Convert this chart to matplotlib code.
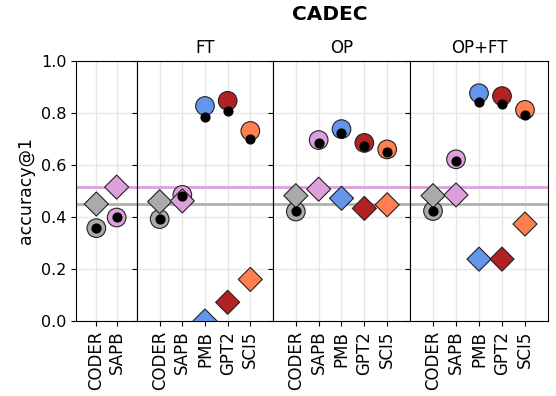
import matplotlib
matplotlib.use("Agg")
import matplotlib.pyplot as plt
import numpy as np

panels = ["", "FT", "OP", "OP+FT"]
cats_base = ["CODER", "SAPB"]
cats = ["CODER", "SAPB", "PMB", "GPT2", "SCI5"]
colors = {"CODER": "#aaaaaa", "SAPB": "#dda0dd", "PMB": "#6495ed",
          "GPT2": "#b22222", "SCI5": "#ff7f50"}

# circles (big), black dots, diamonds per panel
base_circle = [0.357, 0.398]
base_dot = [0.357, 0.400]
base_diamond = [0.450, 0.515]

ft_circle = [0.392, 0.485, 0.827, 0.847, 0.731]
ft_dot = [0.392, 0.481, 0.786, 0.809, 0.701]
ft_diamond = [0.459, 0.462, 0.000, 0.072, 0.160]

op_circle = [0.421, 0.696, 0.738, 0.685, 0.660]
op_dot = [0.423, 0.686, 0.724, 0.673, 0.649]
op_diamond = [0.482, 0.507, 0.472, 0.433, 0.447]

opft_circle = [0.423, 0.622, 0.876, 0.865, 0.812]
opft_dot = [0.423, 0.615, 0.844, 0.833, 0.791]
opft_diamond = [0.482, 0.485, 0.238, 0.238, 0.373]

ref_lines = {"SAPB": 0.514, "CODER": 0.449}

data = [
    (cats_base, base_circle, base_dot, base_diamond),
    (cats, ft_circle, ft_dot, ft_diamond),
    (cats, op_circle, op_dot, op_diamond),
    (cats, opft_circle, opft_dot, opft_diamond),
]

fig = plt.figure(figsize=(5.56, 3.96), dpi=100)
gs = fig.add_gridspec(1, 4, width_ratios=[61, 136, 137, 138], wspace=0,
                      left=76/556, right=548/556, bottom=1-321/396, top=1-61/396)
axes = []
for i in range(4):
    ax = fig.add_subplot(gs[0, i], sharey=axes[0] if axes else None)
    axes.append(ax)
    cl, circ, dot, dia = data[i]
    x = np.arange(len(cl))
    ax.set_axisbelow(True)
    ax.grid(True, color="#e6e6e6", linewidth=1.0)
    ax.axhline(ref_lines["SAPB"], color="#dda0dd", linewidth=2, zorder=1)
    ax.axhline(ref_lines["CODER"], color="#b0b0b0", linewidth=2, zorder=1)
    cols = [colors[c] for c in cl]
    ax.scatter(x, circ, marker="o", s=180, c=cols, edgecolors="#222222",
               linewidths=0.8, zorder=3)
    ax.scatter(x, dia, marker="D", s=150, c=cols, edgecolors="#222222",
               linewidths=0.8, zorder=4)
    ax.scatter(x, dot, marker="o", s=40, c="black", zorder=5)
    ax.set_xticks(x)
    ax.set_xticklabels(cl, rotation=90, fontsize=12)
    ax.set_xlim(-1, len(cl))
    ax.set_ylim(0, 1.0)
    ax.set_yticks([0, 0.2, 0.4, 0.6, 0.8, 1.0])
    ax.tick_params(axis="y", labelsize=11.5)
    if i > 0:
        ax.tick_params(axis="y", labelleft=False)
        ax.set_title(panels[i], fontsize=12, pad=6)
    for s in ax.spines.values():
        s.set_color("black")

axes[0].set_ylabel("accuracy@1", fontsize=12.5)
fig.text(330/556, 1-15/396, "CADEC", ha="center", va="center",
         fontsize=14.5, fontweight="bold")
fig.savefig("out.png", dpi=100)
